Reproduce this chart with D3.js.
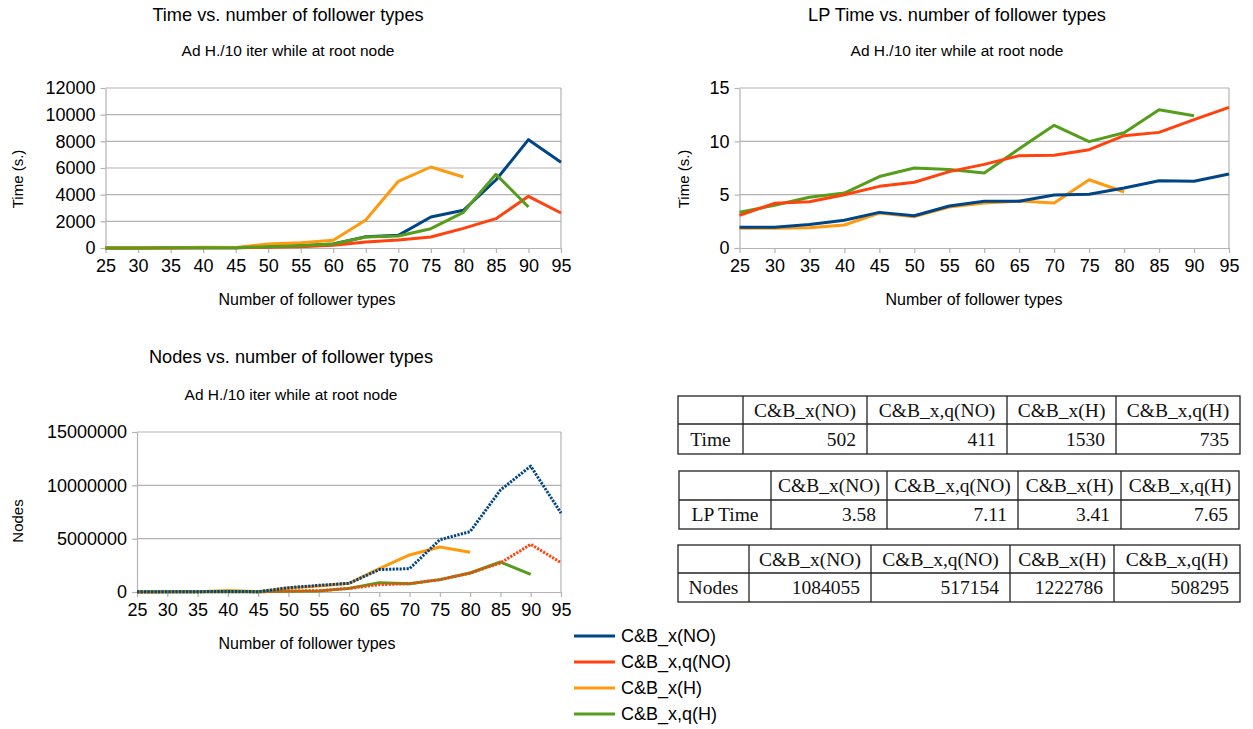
<!DOCTYPE html>
<html><head><meta charset="utf-8">
<script src="https://cdn.jsdelivr.net/npm/d3@7"></script>
<style>
html,body{margin:0;padding:0;background:#fff;}
svg{display:block;font-family:"Liberation Sans",Arial,sans-serif;}
</style></head>
<body>
<svg id="c" width="1253" height="729"></svg>
<script>
// ---------- DATA ----------
const followerTypes = [25,30,35,40,45,50,55,60,65,70,75,80,85,90,95];
const seriesNames = ["C&B_x(NO)","C&B_x,q(NO)","C&B_x(H)","C&B_x,q(H)"];
const seriesColors = ["#004586","#ff420e","#ff9a0e","#579d1c"];

const timeNO  = [3,6,12,25,20,100,175,300,850,950,2325,2825,5100,8125,6425];
const timeQNO = [2,4,8,15,12,50,100,200,450,600,825,1475,2200,3875,2625];
const timeH   = [10,15,25,60,40,300,400,575,2100,5000,6075,5325,null,null,null];
const timeQH  = [3,5,10,20,15,100,175,300,825,900,1450,2675,5525,3075,null];
const timeTicks = [0,2000,4000,6000,8000,10000,12000];

const lpNO  = [1.94,1.94,2.2,2.6,3.34,3.03,3.94,4.38,4.38,4.97,5.03,5.63,6.31,6.25,6.94];
const lpQNO = [3.06,4.19,4.34,5.0,5.78,6.16,7.16,7.84,8.66,8.69,9.22,10.53,10.84,12.03,13.19];
const lpH   = [1.84,1.84,1.9,2.16,3.28,2.94,3.84,4.22,4.4,4.22,6.4,5.25,null,null,null];
const lpQH  = [3.35,4.0,4.75,5.15,6.7,7.5,7.35,7.03,9.3,11.5,9.97,10.8,12.97,12.4,null];
const lpTicks = [0,5,10,15];

const nodesNO  = [20000,25000,30000,50000,30000,400000,625000,810000,2100000,2190000,4900000,5660000,9560000,11800000,7400000];
const nodesQNO = [10000,12000,15000,20000,15000,90000,120000,340000,690000,780000,1160000,1780000,2720000,4470000,2750000];
const nodesH   = [20000,25000,30000,150000,30000,375000,560000,810000,2200000,3470000,4220000,3720000,null,null,null];
const nodesQH  = [10000,12000,15000,20000,15000,60000,90000,340000,875000,780000,1160000,1780000,2810000,1660000,null];
const nodesTicks = [0,5000000,10000000,15000000];

const tableHeaders = ["C&B_x(NO)","C&B_x,q(NO)","C&B_x(H)","C&B_x,q(H)"];
const timeRowLabel = "Time";
const timeRow = ["502","411","1530","735"];
const lpRowLabel = "LP Time";
const lpRow = ["3.58","7.11","3.41","7.65"];
const nodesRowLabel = "Nodes";
const nodesRow = ["1084055","517154","1222786","508295"];

// ---------- DRAW ----------
const svg = d3.select("#c");
const GRID = "#b3b3b3";

function drawChart(cfg){
  const g = svg.append("g");
  const x = d3.scaleLinear().domain([25,95]).range([cfg.left,cfg.right]);
  const y = d3.scaleLinear().domain([0,d3.max(cfg.ticks)]).range([cfg.bottom,cfg.top]);
  g.selectAll(".grid").data(cfg.ticks.filter(t=>t>0)).enter().append("line")
    .attr("x1",cfg.left).attr("x2",cfg.right)
    .attr("y1",d=>y(d)).attr("y2",d=>y(d))
    .attr("stroke",GRID).attr("stroke-width",1.2);
  g.append("line").attr("x1",cfg.right).attr("x2",cfg.right)
    .attr("y1",cfg.top).attr("y2",cfg.bottom).attr("stroke",GRID).attr("stroke-width",1.2);
  const xa = g.append("g").attr("transform",`translate(0,${cfg.bottom})`)
    .call(d3.axisBottom(x).tickValues(followerTypes).tickSize(5).tickSizeOuter(0).tickFormat(d3.format("d")));
  const ya = g.append("g").attr("transform",`translate(${cfg.left},0)`)
    .call(d3.axisLeft(y).tickValues(cfg.ticks).tickSize(5).tickSizeOuter(0).tickPadding(5).tickFormat(d3.format("d")));
  [xa,ya].forEach(a=>{
    a.selectAll("path,line").attr("stroke",GRID).attr("stroke-width",1.2);
    a.selectAll("text").attr("fill","#000").style("font-size","18px").style("font-family","Liberation Sans, Arial, sans-serif");
  });
  xa.selectAll("text").attr("dy","0.9em");
  const line = d3.line().defined(d=>d.v!=null).x(d=>x(d.k)).y(d=>y(d.v));
  cfg.order.forEach(i=>{
    const data = followerTypes.map((k,j)=>({k:k,v:cfg.series[i][j]}));
    const p = g.append("path").datum(data).attr("d",line)
      .attr("fill","none").attr("stroke",seriesColors[i]).attr("stroke-width",3)
      .attr("stroke-linejoin","round");
    if(cfg.dotted && cfg.dotted.includes(i)) p.attr("stroke-dasharray","2.2,1.3");
  });
  const t = (txt,xx,yy,size,rot)=>{
    const e = g.append("text").attr("text-anchor","middle").attr("dominant-baseline","central")
      .style("font-size",size+"px").attr("fill","#000").text(txt);
    if(rot) e.attr("transform",`translate(${xx},${yy}) rotate(-90)`); else e.attr("x",xx).attr("y",yy);
  };
  t(cfg.title,cfg.titleX,cfg.titleY,18.2);
  t("Ad H./10 iter while at root node",cfg.titleX,cfg.subY,15.5);
  t("Number of follower types",cfg.xTitleX,cfg.xTitleY,16);
  t(cfg.yTitle,cfg.yTitleX,cfg.yTitleY,15,true);
}

drawChart({left:105.5,right:561,top:88,bottom:248,ticks:timeTicks,
  series:[timeNO,timeQNO,timeH,timeQH],order:[0,1,2,3],
  title:"Time vs. number of follower types",titleX:288,titleY:15,subY:50,
  xTitleX:307,xTitleY:299,yTitle:"Time (s.)",yTitleX:17,yTitleY:179});

drawChart({left:739.5,right:1229,top:88,bottom:248,ticks:lpTicks,
  series:[lpNO,lpQNO,lpH,lpQH],order:[3,1,2,0],
  title:"LP Time vs. number of follower types",titleX:957,titleY:15,subY:50,
  xTitleX:974,xTitleY:299,yTitle:"Time (s.)",yTitleX:683,yTitleY:179});

drawChart({left:137,right:561,top:432,bottom:592,ticks:nodesTicks,
  series:[nodesNO,nodesQNO,nodesH,nodesQH],order:[2,3,1,0],dotted:[0,1],
  title:"Nodes vs. number of follower types",titleX:291,titleY:357,subY:394,
  xTitleX:307,xTitleY:643,yTitle:"Nodes",yTitleX:17,yTitleY:521});

// legend
const lg = svg.append("g");
seriesNames.forEach((n,i)=>{
  const yy = 636 + i*26;
  lg.append("line").attr("x1",574).attr("x2",615).attr("y1",yy).attr("y2",yy)
    .attr("stroke",seriesColors[i]).attr("stroke-width",3);
  lg.append("text").attr("x",621).attr("y",yy).attr("dominant-baseline","central")
    .style("font-size","18px").attr("fill","#000").text(n);
});

// tables
function drawTable(cols, top, mid, bottom, label, values){
  const g = svg.append("g").style("font-family","'Liberation Serif','DejaVu Serif',serif").style("font-size","19.5px");
  const L = cols[0], R = cols[cols.length-1];
  g.append("rect").attr("x",L).attr("y",top).attr("width",R-L).attr("height",bottom-top)
    .attr("fill","none").attr("stroke","#222").attr("stroke-width",1.3);
  g.append("line").attr("x1",L).attr("x2",R).attr("y1",mid).attr("y2",mid).attr("stroke","#222").attr("stroke-width",1.3);
  cols.slice(1,-1).forEach(c=>g.append("line").attr("x1",c).attr("x2",c).attr("y1",top).attr("y2",bottom)
    .attr("stroke","#222").attr("stroke-width",1.3));
  tableHeaders.forEach((h,i)=>{
    g.append("text").attr("x",(cols[i+1]+cols[i+2])/2).attr("y",(top+mid)/2).attr("text-anchor","middle")
      .attr("dominant-baseline","central").attr("fill","#111").text(h);
  });
  g.append("text").attr("x",(cols[0]+cols[1])/2).attr("y",(mid+bottom)/2).attr("text-anchor","middle")
    .attr("dominant-baseline","central").attr("fill","#111").text(label);
  values.forEach((v,i)=>{
    g.append("text").attr("x",cols[i+2]-11).attr("y",(mid+bottom)/2).attr("text-anchor","end")
      .attr("dominant-baseline","central").attr("fill","#111").text(v);
  });
}
drawTable([678,743,867,1007,1116,1240],396,424,454,timeRowLabel,timeRow);
drawTable([679,771,887,1018,1121,1239],471,500,529,lpRowLabel,lpRow);
drawTable([678,749,871,1010,1114,1240],545,573,602,nodesRowLabel,nodesRow);
</script>
</body></html>
